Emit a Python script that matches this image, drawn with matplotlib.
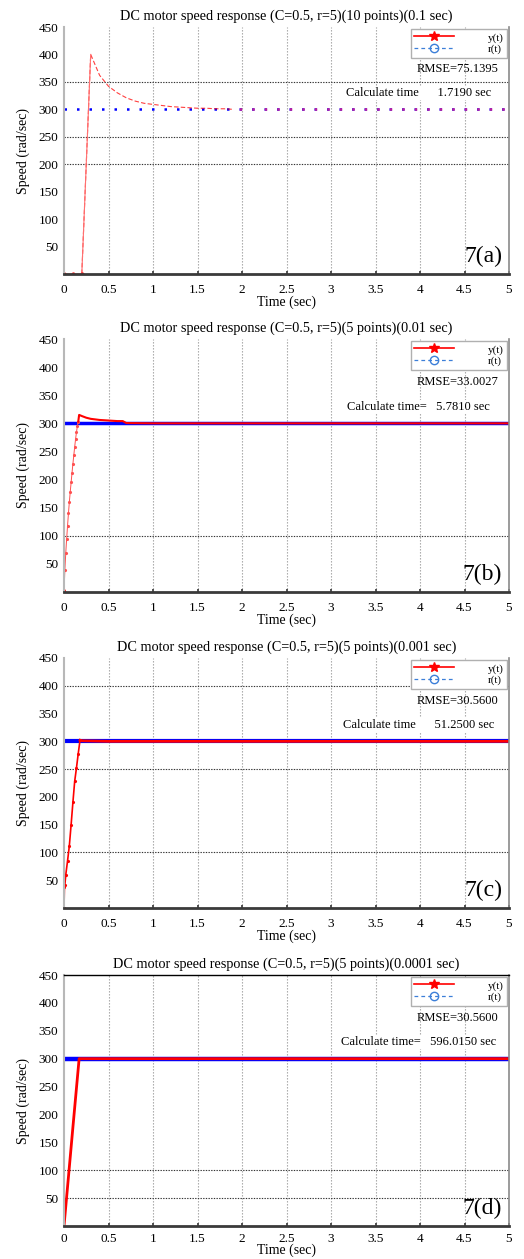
import numpy as np
import matplotlib
matplotlib.use("Agg")
import matplotlib.pyplot as plt
from matplotlib.lines import Line2D

plt.rcParams['font.family'] = ['Liberation Serif', 'DejaVu Serif']

# ---------------- data ----------------
titles = [
    "DC motor speed response (C=0.5, r=5)(10 points)(0.1 sec)",
    "DC motor speed response (C=0.5, r=5)(5 points)(0.01 sec)",
    "DC motor speed response (C=0.5, r=5)(5 points)(0.001 sec)",
    "DC motor speed response (C=0.5, r=5)(5 points)(0.0001 sec)",
]
rmse_texts = ["RMSE=75.1395", "RMSE=33.0027", "RMSE=30.5600", "RMSE=30.5600"]
calc_texts = ["Calculate time      1.7190 sec", "Calculate time=   5.7810 sec",
              "Calculate time      51.2500 sec", "Calculate time=   596.0150 sec"]
panel_labels = ["7(a)", "7(b)", "7(c)", "7(d)"]

ref_t = [0.0, 5.0]
ref_y = [300.0, 300.0]

# (a) sample time 0.1 s
ta = [0.0, 0.1, 0.2, 0.3, 0.4, 0.5, 0.6, 0.7, 0.8, 0.9, 1.0, 1.1, 1.2, 1.3, 1.4,
      1.5, 1.6, 1.7, 1.8, 1.9, 2.0, 2.5, 3.0, 3.5, 4.0, 4.5, 5.0]
ya = [0, 0, 0, 400, 362, 342, 330, 321, 315, 311, 309, 307, 305, 304, 303,
      302, 302, 301, 301, 300, 300, 300, 300, 300, 300, 300, 300]

# (b) sample time 0.01 s
tb = [0.0, 0.01, 0.02, 0.03, 0.04, 0.05, 0.06, 0.07, 0.08, 0.09, 0.10, 0.11,
      0.12, 0.13, 0.14, 0.15, 0.16, 0.17, 0.2, 0.25, 0.3, 0.4, 0.5, 0.6, 0.66,
      0.7, 1.0, 5.0]
yb = [0, 40, 70, 95, 118, 140, 160, 178, 195, 212, 228, 243, 258, 272, 284,
      295, 303, 315, 313, 310, 308, 306, 305, 304, 304, 300.5, 300, 300]

# (c) sample time 0.001 s
tc = [0.0, 0.005, 0.01, 0.02, 0.04, 0.06, 0.08, 0.10, 0.12, 0.14, 0.16, 0.18,
      0.2, 0.5, 1.0, 5.0]
yc = [0, 38, 42, 60, 85, 112, 150, 190, 228, 252, 278, 302, 301, 300, 300, 300]

# (d) sample time 0.0001 s
td = [0.0, 0.05, 0.10, 0.17, 0.5, 1.0, 5.0]
yd = [0, 88, 177, 300, 300, 300, 300]

y_series = [(ta, ya), (tb, yb), (tc, yc), (td, yd)]

hgrid_levels = [[350, 250, 200], [100], [400, 250, 100], [100, 50]]
xticks = [0, 0.5, 1, 1.5, 2, 2.5, 3, 3.5, 4, 4.5, 5]
xticklabels = ["0", "0.5", "1", "1.5", "2", "2.5", "3", "3.5", "4", "4.5", "5"]
yticks = [50, 100, 150, 200, 250, 300, 350, 400, 450]

# ---------------- layout (pixels) ----------------
W, H = 524, 1259
fig = plt.figure(figsize=(W / 100, H / 100), dpi=100)
left_px, right_px = 64, 509
boxes = [(27, 274), (339, 592), (658, 908), (975, 1226)]

for i, (top, bot) in enumerate(boxes):
    ax = fig.add_axes([left_px / W, 1 - bot / H, (right_px - left_px) / W, (bot - top) / H])
    ax.set_xlim(0, 5)
    ax.set_ylim(0, 450)

    # grids
    for x in xticks[1:-1]:
        ax.axvline(x, color="#a0a0a0", ls=(0, (1.2, 1.5)), lw=0.8, zorder=0)
    for yl in hgrid_levels[i]:
        ax.axhline(yl, color="#333333", ls=(0, (1.2, 1.2)), lw=0.8, zorder=0)

    t, y = y_series[i]
    if i == 0:
        ax.plot(ref_t, ref_y, color="blue", ls=(0, (1, 4)), lw=1.8, zorder=2)
        ax.plot(t[2:20], y[2:20], color="red", lw=0.8, alpha=0.75, ls=(0, (4, 2)), zorder=3)
        ax.plot(t[19:], y[19:], color="#c0209a", lw=1.8, ls=(2.5, (1, 4)), zorder=3)
        ax.plot(t[:4], y[:4], color="#ff7070", lw=0.8, zorder=3)
        ax.plot(t[:3], y[:3], 'o', color="red", ms=2, zorder=4)
    elif i == 1:
        ax.plot(ref_t, ref_y, color="blue", lw=2.5, zorder=2)
        ax.plot(t[:17], y[:17], color="#ff5050", lw=0.7, marker='.', ms=2.5, zorder=3)
        ax.plot(t[16:], y[16:], color="red", lw=1.5, zorder=3)
        ax.plot([0], [0], '^', color='red', ms=4, zorder=4)
    elif i == 2:
        ax.plot(ref_t, ref_y, color="blue", lw=3, zorder=2)
        ax.plot(t[:12], y[:12], color="red", lw=1.2, marker='.', ms=2.5, zorder=3)
        ax.plot(t[11:], y[11:], color="red", lw=2.0, zorder=3)
    else:
        ax.plot(ref_t, ref_y, color="blue", lw=3.2, zorder=2)
        ax.plot(t, y, color="red", lw=2.0, zorder=3)

    ax.set_xticks(xticks)
    ax.set_xticklabels(xticklabels)
    ax.set_yticks(yticks)
    ax.tick_params(axis='both', labelsize=9.5, length=2.5, direction='in', width=1.2, color="#333333")
    ax.tick_params(axis='x', pad=7 if i < 3 else 5)
    ax.tick_params(axis='y', pad=4, length=0)

    ax.set_title(titles[i], fontsize=10.3, pad=5)
    ax.set_xlabel("Time (sec)", fontsize=10, labelpad=0 if i < 3 else -1)
    ax.set_ylabel("Speed (rad/sec)", fontsize=10, labelpad=6)

    for s in ax.spines.values():
        s.set_zorder(5)
    ax.spines['left'].set_color("#b8b8b8")
    ax.spines['left'].set_linewidth(1.5)
    ax.spines['bottom'].set_color("#3a3a3a")
    ax.spines['bottom'].set_linewidth(2.0)
    ax.spines['right'].set_color("#8a8a8a")
    ax.spines['right'].set_linewidth(1.2)
    if i == 3:
        ax.spines['top'].set_color("black")
        ax.spines['top'].set_linewidth(1.0)
    else:
        ax.spines['top'].set_visible(False)

    handles = [
        Line2D([], [], color="red", lw=1.2, marker="*", ms=7, mec="red"),
        Line2D([], [], color="#3c7fd8", lw=0.9, ls=(0, (3, 2.5)), marker="o", ms=6,
               mfc="none", mec="#3c7fd8"),
    ]
    leg = ax.legend(handles, ["y(t)", "r(t)"], loc="upper right", fontsize=8,
                    handlelength=3.6, handletextpad=3.0, borderaxespad=0.2,
                    labelspacing=0.15, fancybox=False, framealpha=1.0,
                    borderpad=0.3)
    leg.get_frame().set_edgecolor("#b0b0b0")
    leg.get_frame().set_linewidth(1.0)
    leg.set_zorder(6)

    ax.text(0.885, 0.83, rmse_texts[i], transform=ax.transAxes, ha="center",
            va="center", fontsize=9, zorder=7)
    ax.text(0.797, 0.733, calc_texts[i], transform=ax.transAxes, ha="center",
            va="center", fontsize=9, zorder=7,
            bbox=dict(facecolor="white", edgecolor="none", pad=0.5))
    ax.text(0.985, 0.07, panel_labels[i], transform=ax.transAxes, ha="right",
            va="center", fontsize=17, zorder=7)

fig.savefig("out.png", dpi=100)
